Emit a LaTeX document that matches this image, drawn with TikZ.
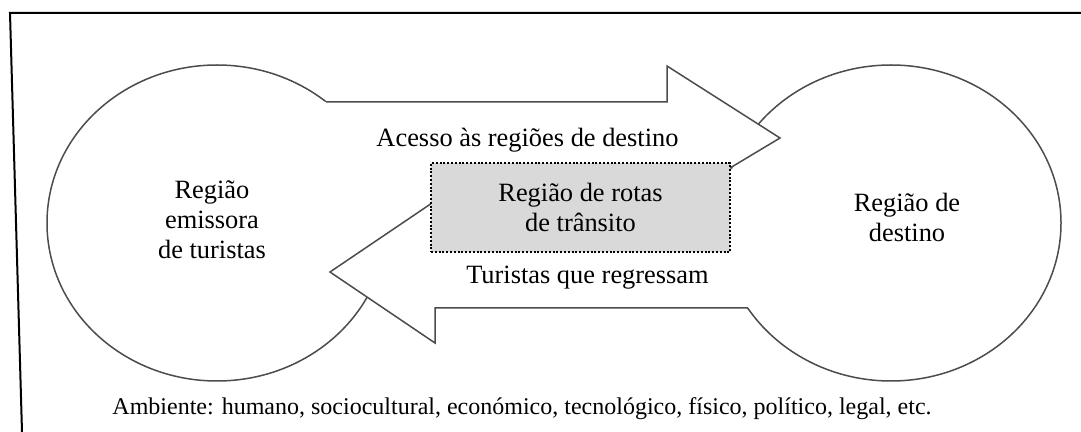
\documentclass[tikz,border=0pt]{standalone}
\usepackage{fontspec}
\setmainfont{Liberation Serif}
\begin{document}
\begin{tikzpicture}[x=0.5pt,y=-0.5pt]
	\tikzstyle{every node}+=[inner sep=0pt,align=center,font=\fontsize{13.2}{15}\selectfont]
	\tikzstyle{region}=[draw=black!70,line width=0.75pt,fill=white]
	\tikzstyle{flow}=[draw=black!70,line width=0.75pt]
	\tikzstyle{transitbox}=[draw=black,fill=black!15,line width=1pt,dash pattern=on 1pt off 0.9pt,minimum width=149.5pt,minimum height=44.5pt]
	\useasboundingbox (0,0) rectangle (1081,432);
	\draw [black,line width=1pt] (1081,13) -- (10,13) -- (22,432);
	\draw [region] (217,223) ellipse [x radius=170,y radius=158];
	\draw [region] (891,223) ellipse [x radius=170,y radius=158];
	\fill [white] (300,102) -- (667,102) -- (667,66) -- (780,138) -- (730,168) -- (770,200) -- (760,230) -- (300,240) -- cycle;
	\fill [white] (850,236) -- (435,236) -- (435,201) -- (330,272) -- (435,343) -- (435,308) -- (850,308) -- cycle;
	\draw [flow] (326,102) -- (667,102) -- (667,66) -- (780,138) -- (730,168);
	\draw [flow] (748,308) -- (435,308) -- (435,343) -- (330,272) -- (435,201);
	\node [transitbox] (transit) at (580.5,207.5) {Região de rotas\\de trânsito};
	\node (emissora) at (212,220) {Região\\emissora\\de turistas};
	\node (destino) at (907,217) {Região de\\destino};
	\node (acesso) at (527.5,140) {Acesso às regiões de destino};
	\node (regresso) at (587.5,278) {Turistas que regressam};
	\node [font=\fontsize{12}{14}\selectfont] (ambiente) at (522,409) {Ambiente: humano, sociocultural, económico, tecnológico, físico, político, legal, etc.};
\end{tikzpicture}
\end{document}
